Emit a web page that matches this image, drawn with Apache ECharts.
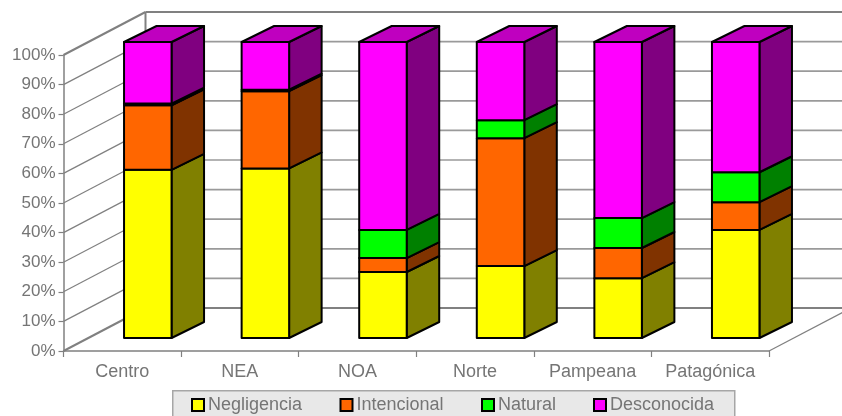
<!DOCTYPE html>
<html>
<head>
<meta charset="utf-8">
<style>html,body{margin:0;padding:0;background:#fff}#c{width:842px;height:416px}</style>
<script src="https://cdn.jsdelivr.net/npm/echarts@6/dist/echarts.min.js"></script>
</head>
<body>
<div id="c"></div>
<script>
var categories = ['Centro','NEA','NOA','Norte','Pampeana','Patagónica'];
var negligencia = [56.8,57.3,22.3,24.3,20.2,36.5];
var intencional = [21.8,26.1,4.7,43.2,10.2,9.4];
var natural     = [0.6,0.5,9.5,6.1,10.1,10.1];
var desconocida = [20.8,16.1,63.5,26.4,59.5,44];
var seriesNames = ['Negligencia','Intencional','Natural','Desconocida'];
var frontColors = ['#ffff00','#ff6600','#00ff00','#ff00ff'];
var sideColors  = ['#808000','#803300','#008000','#800080'];
var topColors   = ['#bfbf00','#bf4d00','#00bf00','#bf00bf'];
var yTicks = [0,10,20,30,40,50,60,70,80,90,100];

var GRAY = '#808080', TEXT = '#757575', FONT = '"Liberation Sans", Arial, sans-serif';
var WALL_DX = 82, WALL_DY = -43;
var BAR_OFF_DX = 25.5, BAR_OFF_DY = -13, BAR_DX = 32.5, BAR_DY = -16, BAR_FRAC = 0.404;

function line(x1,y1,x2,y2,w,c){
  return {type:'line',shape:{x1:x1,y1:y1,x2:x2,y2:y2},style:{stroke:c||GRAY,lineWidth:w}};
}
function renderWall(params, api){
  var v = api.value(1), bw = api.size([1,0])[0];
  var p = api.coord([0,v]), x0 = p[0]-bw/2, y = p[1];
  var xb = x0+WALL_DX, yb = y+WALL_DY, thick = (v===0||v===100);
  var kids = [
    line(x0,y,xb,yb,thick?2:1.2),
    line(xb,yb,x0+categories.length*bw+WALL_DX,yb,thick?2:1.7,thick?GRAY:'#9a9a9a')
  ];
  if (v===0) {
    kids.push(line(x0+categories.length*bw,y,x0+categories.length*bw+WALL_DX,yb,1.2));
    var top = api.coord([0,100])[1];
    kids.push(line(xb,yb,xb,top+WALL_DY,2));
  }
  return {type:'group',children:kids};
}
function poly(pts,fill){
  return {type:'polygon',shape:{points:pts},style:{fill:fill,stroke:'#000',lineWidth:2,lineJoin:'round'}};
}
function makeRender(s, isLast){
  return function(params, api){
    var c = api.value(0), a = api.coord([c,api.value(1)]), b = api.coord([c,api.value(2)]);
    var bw = api.size([1,0])[0], w = bw*BAR_FRAC;
    var l = a[0]+BAR_OFF_DX-w/2, r = l+w;
    var y0 = a[1]+BAR_OFF_DY, y1 = b[1]+BAR_OFF_DY;
    var kids = [
      poly([[r,y0],[r+BAR_DX,y0+BAR_DY],[r+BAR_DX,y1+BAR_DY],[r,y1]],sideColors[s]),
      poly([[l,y0],[r,y0],[r,y1],[l,y1]],frontColors[s])
    ];
    if (isLast) kids.push(poly([[l,y1],[r,y1],[r+BAR_DX,y1+BAR_DY],[l+BAR_DX,y1+BAR_DY]],topColors[s]));
    return {type:'group',children:kids};
  };
}
var values = [negligencia,intencional,natural,desconocida];
var cum = categories.map(function(){return 0;});
var series = [{
  type:'custom', name:'walls', silent:true, z:1, clip:false,
  renderItem:renderWall, encode:{x:0,y:1},
  data:yTicks.map(function(v){return [0,v];})
}];
values.forEach(function(arr,s){
  var rows = arr.map(function(v,i){ var r=[i,cum[i],cum[i]+v]; cum[i]+=v; return r; });
  series.push({
    type:'custom', name:seriesNames[s], z:2+s, clip:false,
    renderItem:makeRender(s,s===values.length-1),
    encode:{x:0,y:[1,2]}, data:rows,
    itemStyle:{color:frontColors[s]}
  });
});
var legendLefts = [191,339.5,481,593];
var legends = seriesNames.map(function(n,i){
  return {data:[{name:n,icon:'rect',itemStyle:{color:frontColors[i],borderColor:'#000',borderWidth:2}}],
    left:legendLefts[i], top:391, padding:[5,0,0,0], itemWidth:12, itemHeight:12, itemGap:0,
    selectedMode:false, z:10,
    textStyle:{color:TEXT,fontFamily:FONT,fontSize:18,padding:[0,0,0,-1]}};
});
var chart = echarts.init(document.getElementById('c'),null,{renderer:'canvas'});
chart.setOption({
  animation:false, backgroundColor:'#fff',
  tooltip:{show:false},
  legend:legends,
  graphic:[{type:'rect',left:172,top:390,z:0,shape:{width:562,height:30},
    style:{fill:'#e8e8e8',stroke:'#a6a6a6',lineWidth:1.5}}],
  grid:{left:63.5,right:73,top:55,bottom:65,containLabel:false},
  xAxis:{type:'category',data:categories,boundaryGap:true,
    axisLine:{lineStyle:{color:GRAY,width:1.5}},
    axisTick:{show:true,alignWithLabel:false,length:6,lineStyle:{color:GRAY,width:1.2}},
    axisLabel:{color:TEXT,fontFamily:FONT,fontSize:18,margin:12,interval:0},
    splitLine:{show:false}},
  yAxis:{type:'value',min:0,max:100,interval:10,
    axisLine:{show:true,lineStyle:{color:GRAY,width:1.5}},
    axisTick:{show:true,length:5,lineStyle:{color:GRAY,width:1.2}},
    axisLabel:{color:TEXT,fontFamily:FONT,fontSize:17,margin:8,formatter:'{value}%'},
    splitLine:{show:false}},
  series:series
});
</script>
</body>
</html>
